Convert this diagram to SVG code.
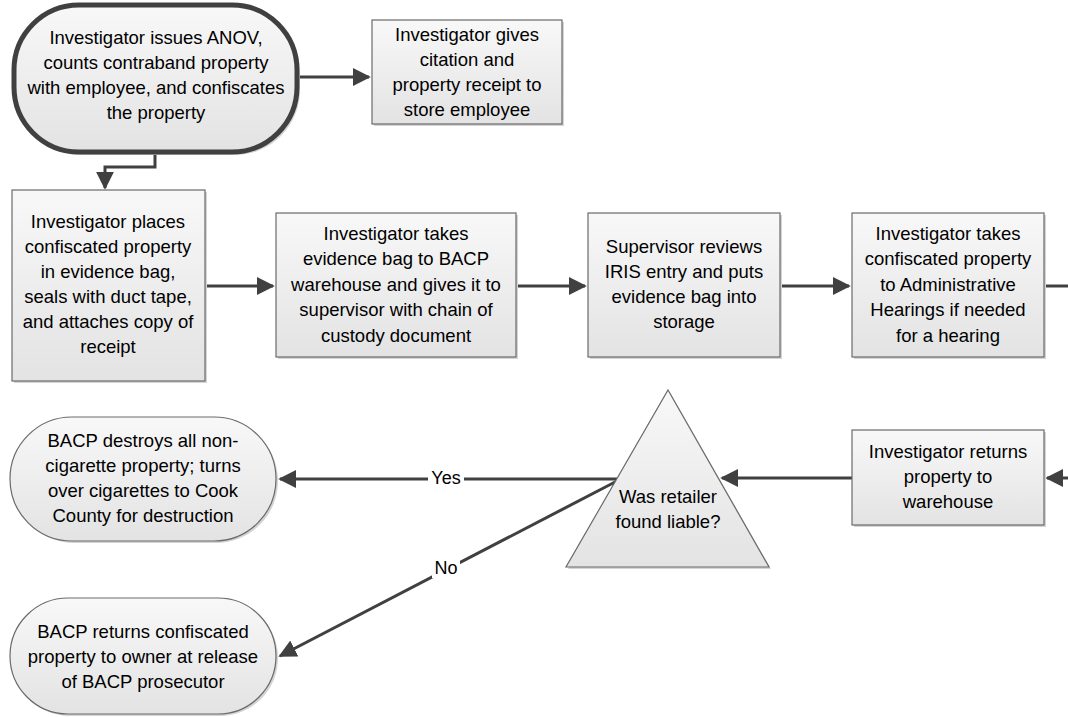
<svg xmlns="http://www.w3.org/2000/svg" width="1068" height="717" viewBox="0 0 1068 717">
<style>
text{font-family:"Liberation Sans",Arial,sans-serif;font-size:18.5px;fill:#000;text-anchor:middle}
.box{fill:url(#g);stroke:#6a6a6a;stroke-width:1.2}
.sh{fill:#d4d4d4}
.c{fill:none;stroke:#404040;stroke-width:3}
.lbl{font-size:18px}
</style>
<defs>
<linearGradient id="g" x1="0" y1="0" x2="0" y2="1">
<stop offset="0" stop-color="#f8f8f8"/>
<stop offset="1" stop-color="#e3e3e3"/>
</linearGradient>
<marker id="ah" viewBox="0 0 10 10" refX="9" refY="5" markerWidth="6" markerHeight="6" orient="auto">
<path d="M0,0 L10,5 L0,10 z" fill="#404040"/>
</marker>
</defs>
<rect width="1068" height="717" fill="#fff"/>

<g id="connectors">
<path class="c" d="M297,77 H369" marker-end="url(#ah)"/>
<path class="c" d="M155,152 V167 H105 V188" marker-end="url(#ah)"/>
<path class="c" d="M205,286 H273" marker-end="url(#ah)"/>
<path class="c" d="M516,286 H585" marker-end="url(#ah)"/>
<path class="c" d="M780,286 H849" marker-end="url(#ah)"/>
<path class="c" d="M1044,286 H1068"/>
<path class="c" d="M1068,478 H1047" marker-end="url(#ah)"/>
<path class="c" d="M852,478 H722" marker-end="url(#ah)"/>
<path class="c" d="M617,479 H280" marker-end="url(#ah)"/>
<path class="c" d="M617,481 L280,656" marker-end="url(#ah)"/>
<rect x="428" y="467" width="36" height="22" fill="#fff"/>
<text class="lbl" x="446" y="484">Yes</text>
<rect x="432" y="556" width="28" height="22" fill="#fff"/>
<text class="lbl" x="446" y="574">No</text>
</g>

<g id="start">
<rect x="17" y="8" width="283" height="147" rx="65" class="sh"/>
<rect x="14" y="5" width="283" height="147" rx="65" fill="url(#g)" stroke="#404040" stroke-width="5"/>
<text x="156" y="44">Investigator issues ANOV,</text>
<text x="156" y="69">counts contraband property</text>
<text x="156" y="94">with employee, and confiscates</text>
<text x="156" y="119">the property</text>
</g>

<g id="citation">
<rect x="374" y="22" width="190" height="104" class="sh"/>
<rect x="372" y="20" width="190" height="104" class="box"/>
<text x="467" y="41">Investigator gives</text>
<text x="467" y="66">citation and</text>
<text x="467" y="91">property receipt to</text>
<text x="467" y="116">store employee</text>
</g>

<g id="evidence-bag">
<rect x="14" y="192" width="193" height="191" class="sh"/>
<rect x="12" y="190" width="193" height="191" class="box"/>
<text x="108" y="228">Investigator places</text>
<text x="108" y="253">confiscated property</text>
<text x="108" y="278">in evidence bag,</text>
<text x="108" y="303">seals with duct tape,</text>
<text x="108" y="328">and attaches copy of</text>
<text x="108" y="353">receipt</text>
</g>

<g id="warehouse">
<rect x="278" y="215" width="240" height="144" class="sh"/>
<rect x="276" y="213" width="240" height="144" class="box"/>
<text x="396" y="240">Investigator takes</text>
<text x="396" y="265">evidence bag to BACP</text>
<text x="396" y="291">warehouse and gives it to</text>
<text x="396" y="316">supervisor with chain of</text>
<text x="396" y="342">custody document</text>
</g>

<g id="supervisor">
<rect x="590" y="215" width="192" height="144" class="sh"/>
<rect x="588" y="213" width="192" height="144" class="box"/>
<text x="684" y="253">Supervisor reviews</text>
<text x="684" y="278">IRIS entry and puts</text>
<text x="684" y="303">evidence bag into</text>
<text x="684" y="328">storage</text>
</g>

<g id="hearings">
<rect x="854" y="215" width="192" height="144" class="sh"/>
<rect x="852" y="213" width="192" height="144" class="box"/>
<text x="948" y="240">Investigator takes</text>
<text x="948" y="265">confiscated property</text>
<text x="948" y="291">to Administrative</text>
<text x="948" y="316">Hearings if needed</text>
<text x="948" y="342">for a hearing</text>
</g>

<g id="returns-warehouse">
<rect x="854" y="432" width="192" height="95" class="sh"/>
<rect x="852" y="430" width="192" height="95" class="box"/>
<text x="948" y="458">Investigator returns</text>
<text x="948" y="483">property to</text>
<text x="948" y="508">warehouse</text>
</g>

<g id="decision">
<polygon points="670,392 771,569 568,569" class="sh"/>
<polygon points="668,390 769,567 566,567" class="box"/>
<text x="668" y="503">Was retailer</text>
<text x="668" y="528">found liable?</text>
</g>

<g id="destroy">
<rect x="12" y="419" width="266" height="124" rx="62" class="sh"/>
<rect x="10" y="417" width="266" height="124" rx="62" class="box"/>
<text x="143" y="447">BACP destroys all non-</text>
<text x="143" y="472">cigarette property; turns</text>
<text x="143" y="497">over cigarettes to Cook</text>
<text x="143" y="522">County for destruction</text>
</g>

<g id="return-owner">
<rect x="12" y="600" width="266" height="116" rx="58" class="sh"/>
<rect x="10" y="598" width="266" height="116" rx="58" class="box"/>
<text x="143" y="638">BACP returns confiscated</text>
<text x="143" y="663">property to owner at release</text>
<text x="143" y="688">of BACP prosecutor</text>
</g>
</svg>
